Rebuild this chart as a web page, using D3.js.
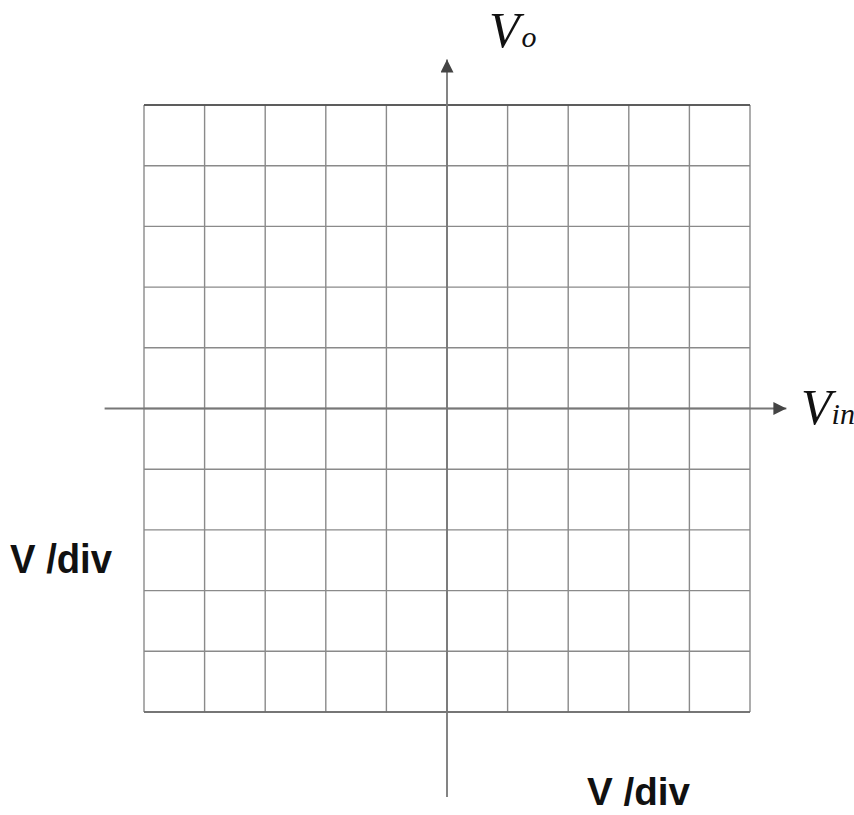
<!DOCTYPE html>
<html>
<head>
<meta charset="utf-8">
<script src="https://d3js.org/d3.v7.min.js"></script>
<style>
  html, body { margin: 0; padding: 0; background: #fff; }
  svg { display: block; }
</style>
</head>
<body>
<div id="chart"></div>
<script>
// grid divisions (volts/div units), symmetric about origin
const xTicks = [-5, -4, -3, -2, -1, 0, 1, 2, 3, 4, 5];
const yTicks = [-5, -4, -3, -2, -1, 0, 1, 2, 3, 4, 5];
const xAxisLabel = ['V', 'in'];
const yAxisLabel = ['V', 'o'];
const divLabel = 'V /div';

const W = 854, H = 815;

const svg = d3.select('#chart').append('svg')
  .attr('width', W)
  .attr('height', H);

const x = d3.scaleLinear().domain([-5, 5]).range([144, 750]);
const y = d3.scaleLinear().domain([-5, 5]).range([712, 105]);

const grid = svg.append('g').attr('stroke', '#8a8a8a').attr('stroke-width', 1.4);

grid.selectAll('.vline')
  .data(xTicks)
  .enter()
  .append('line')
  .attr('x1', d => x(d)).attr('x2', d => x(d))
  .attr('y1', y(5)).attr('y2', y(-5));

grid.selectAll('.hline')
  .data(yTicks)
  .enter()
  .append('line')
  .attr('y1', d => y(d)).attr('y2', d => y(d))
  .attr('x1', x(-5)).attr('x2', x(5));

// darker frame edges
svg.append('line')
  .attr('x1', x(-5)).attr('x2', x(5))
  .attr('y1', y(5)).attr('y2', y(5))
  .attr('stroke', '#444').attr('stroke-width', 1.4);
svg.append('line')
  .attr('x1', x(-5)).attr('x2', x(5))
  .attr('y1', y(-5)).attr('y2', y(-5))
  .attr('stroke', '#666').attr('stroke-width', 1.4);

svg.append('defs').append('marker')
  .attr('id', 'arrow')
  .attr('viewBox', '0 0 10 10')
  .attr('refX', 10).attr('refY', 5)
  .attr('markerWidth', 18).attr('markerHeight', 13)
  .attr('markerUnits', 'userSpaceOnUse')
  .attr('orient', 'auto')
  .append('path')
  .attr('d', 'M0,0 L10,5 L0,10 Z')
  .attr('fill', '#444');

// main axes
svg.append('line')
  .attr('x1', x(-5.65)).attr('x2', x(5.6))
  .attr('y1', y(0)).attr('y2', y(0))
  .attr('stroke', '#777').attr('stroke-width', 1.8)
  .attr('marker-end', 'url(#arrow)');

svg.append('line')
  .attr('x1', x(0)).attr('x2', x(0))
  .attr('y1', y(-6.4)).attr('y2', y(5.75))
  .attr('stroke', '#777').attr('stroke-width', 1.8)
  .attr('marker-end', 'url(#arrow)');

// axis names
const serif = '"Liberation Serif", "Times New Roman", serif';
const vo = svg.append('text')
  .attr('x', 489).attr('y', 47)
  .attr('font-family', serif).attr('font-style', 'italic')
  .attr('font-size', 50).attr('fill', '#111');
vo.append('tspan').text(yAxisLabel[0]);
vo.append('tspan').attr('font-size', 30).attr('dx', 2).text(yAxisLabel[1]);

const vin = svg.append('text')
  .attr('x', 801).attr('y', 424)
  .attr('font-family', serif).attr('font-style', 'italic')
  .attr('font-size', 50).attr('fill', '#111');
vin.append('tspan').text(xAxisLabel[0]);
vin.append('tspan').attr('font-size', 30).attr('dx', 0).text(xAxisLabel[1]);

const sans = '"Liberation Sans", Arial, sans-serif';
svg.append('text')
  .attr('x', 10).attr('y', 573)
  .attr('font-family', sans).attr('font-weight', 'bold')
  .attr('font-size', 40).attr('fill', '#111')
  .attr('textLength', 102).attr('lengthAdjust', 'spacingAndGlyphs')
  .style('white-space', 'pre')
  .text(divLabel);

svg.append('text')
  .attr('x', 587).attr('y', 805)
  .attr('font-family', sans).attr('font-weight', 'bold')
  .attr('font-size', 38).attr('fill', '#111')
  .attr('textLength', 103).attr('lengthAdjust', 'spacingAndGlyphs')
  .style('white-space', 'pre')
  .text(divLabel);
</script>
</body>
</html>
